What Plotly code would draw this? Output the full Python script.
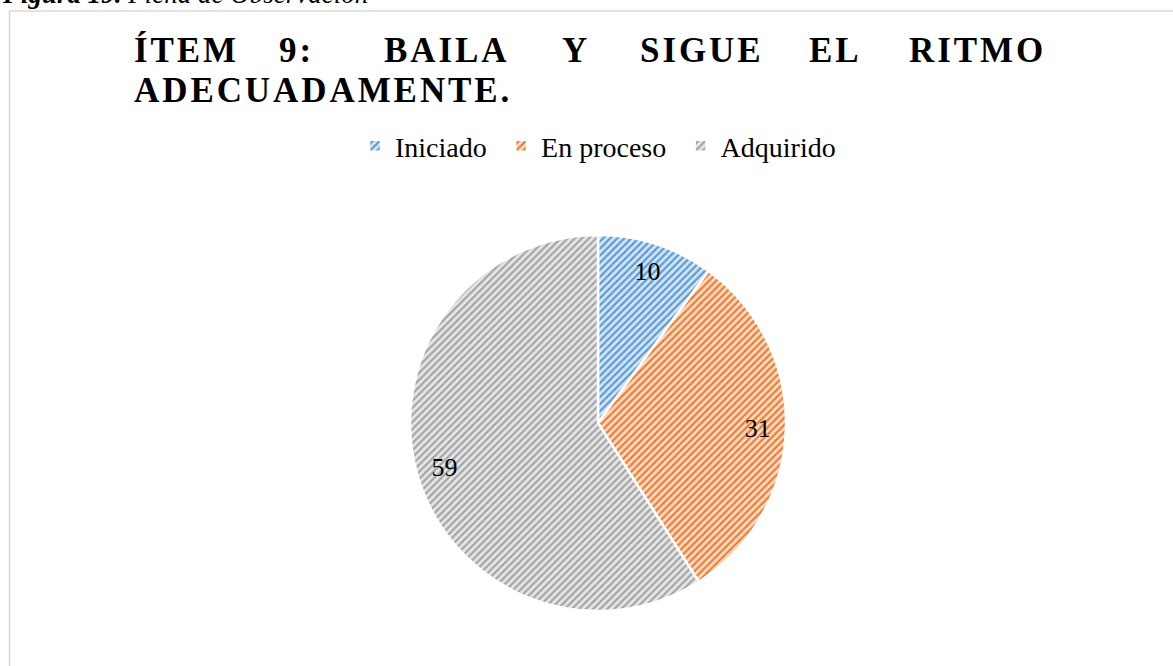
import plotly.graph_objects as go

# ---- data ----
labels = ["Iniciado", "En proceso", "Adquirido"]
values = [10, 31, 59]
colors = ["#5B9BD5", "#ED7D31", "#A5A5A5"]
bg_colors = ["#D5E5F5", "#FBDCC8", "#E6E6E6"]

title_line1 = ["ÍTEM", "9:", "BAILA", "Y", "SIGUE", "EL", "RITMO"]
title_line1_left_px = [132, 277, 382, 560, 638, 807, 907]
title_line2 = "ADECUADAMENTE."
caption_bold = "Figura 19."
caption_rest = "Ficha de Observación"

W, H = 1173, 666
ML, MR, MT, MB = 23, 0, 235, 55
PW, PH = W - ML - MR, H - MT - MB


def xp(px):
    return (px - ML) / PW


def yp(py):
    return (H - MB - py) / PH


HS = "\u200a"  # hair space for letter spacing


def spaced(word):
    return HS.join(list(word))


legend_names = [l + "\u2004" for l in labels]  # slightly wider gap between legend entries

fig = go.Figure()

fig.add_trace(go.Pie(
    labels=legend_names,
    values=values,
    sort=False,
    direction="clockwise",
    rotation=0,
    textinfo="none",
    hoverinfo="label+value",
    marker=dict(
        colors=colors,
        line=dict(color="white", width=2.5),
        pattern=dict(shape="/", size=5, solidity=0.45,
                     fgcolor=colors, bgcolor=bg_colors, fillmode="replace"),
    ),
    showlegend=True,
))

# transparent ring carrying the data labels (places them at ~0.85 R)
fig.add_trace(go.Pie(
    labels=legend_names,
    values=values,
    sort=False,
    direction="clockwise",
    rotation=0,
    hole=0.7,
    textinfo="value",
    textposition="inside",
    insidetextorientation="horizontal",
    textfont=dict(family="Liberation Serif", size=26, color="black"),
    marker=dict(colors=["rgba(0,0,0,0)"] * 3, line=dict(width=0)),
    hoverinfo="skip",
    showlegend=False,
))

annotations = []
for word, left in zip(title_line1, title_line1_left_px):
    annotations.append(dict(
        text=spaced(word), x=xp(left), y=yp(50), xref="paper", yref="paper",
        xanchor="left", yanchor="middle", showarrow=False,
        font=dict(family="Liberation Serif", size=35, color="black", weight="bold"),
    ))
annotations.append(dict(
    text=spaced(title_line2), x=xp(132), y=yp(91), xref="paper", yref="paper",
    xanchor="left", yanchor="middle", showarrow=False,
    font=dict(family="Liberation Serif", size=35, color="black", weight="bold"),
))
annotations.append(dict(
    text="<b><i>" + caption_bold + "</i></b> <i>" + caption_rest + "</i>",
    x=xp(0), y=yp(11), xref="paper", yref="paper",
    xanchor="left", yanchor="bottom", showarrow=False,
    font=dict(family="Liberation Serif", size=27, color="black"),
))

fig.update_layout(
    width=W, height=H,
    margin=dict(l=ML, r=MR, t=MT, b=MB),
    paper_bgcolor="white",
    plot_bgcolor="white",
    font=dict(family="Liberation Serif", color="black"),
    legend=dict(
        orientation="h",
        xref="container", yref="container",
        x=603 / W, xanchor="center", y=1 - 146 / H, yanchor="middle",
        font=dict(family="Liberation Serif", size=28, color="black"),
        itemwidth=30,
        traceorder="normal",
    ),
    annotations=annotations,
    shapes=[dict(
        type="rect", xref="paper", yref="paper",
        x0=xp(9.5), x1=xp(1185), y0=yp(690), y1=yp(11),
        line=dict(color="#D9D9D9", width=1.5), fillcolor="rgba(0,0,0,0)",
        layer="below",
    )],
)

fig.write_html("out.html", config={"displayModeBar": False},
               post_script="document.body.style.margin='0';")
